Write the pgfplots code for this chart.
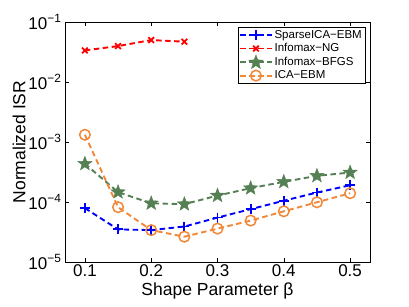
\documentclass[border=0pt]{standalone}
\usepackage{fontspec}
\setmainfont{Liberation Sans}
\usepackage{pgfplots}
\pgfplotsset{compat=1.18}
\definecolor{cblue}{RGB}{0,0,255}
\definecolor{cred}{RGB}{255,0,0}
\definecolor{cgreen}{RGB}{84,128,84}
\definecolor{corange}{RGB}{242,135,55}
\pgfdeclareplotmark{fstar}{%
  \pgfpathmoveto{\pgfpointpolar{90}{\pgfplotmarksize}}%
  \pgfpathlineto{\pgfpointpolar{126}{0.42\pgfplotmarksize}}%
  \pgfpathlineto{\pgfpointpolar{162}{\pgfplotmarksize}}%
  \pgfpathlineto{\pgfpointpolar{198}{0.42\pgfplotmarksize}}%
  \pgfpathlineto{\pgfpointpolar{234}{\pgfplotmarksize}}%
  \pgfpathlineto{\pgfpointpolar{270}{0.42\pgfplotmarksize}}%
  \pgfpathlineto{\pgfpointpolar{306}{\pgfplotmarksize}}%
  \pgfpathlineto{\pgfpointpolar{342}{0.42\pgfplotmarksize}}%
  \pgfpathlineto{\pgfpointpolar{18}{\pgfplotmarksize}}%
  \pgfpathlineto{\pgfpointpolar{54}{0.42\pgfplotmarksize}}%
  \pgfpathclose\pgfusepathqfillstroke}
\begin{document}
\begin{tikzpicture}
\begin{semilogyaxis}[
  scale only axis, width=305pt, height=240pt,
  xmin=0.07, xmax=0.53, ymin=1e-5, ymax=1e-1,
  log basis y=10,
  xtick={0.1,0.2,0.3,0.4,0.5},
  xticklabels={0.1,0.2,0.3,0.4,0.5},
  ytick={1e-5,1e-4,1e-3,1e-2,1e-1},
  yticklabel={\pgfmathtruncatemacro{\e}{round(-\tick)}10\textsuperscript{−\e}},
  tick align=inside, major tick length=4pt, minor tick length=2.2pt,
  every tick/.style={black, line width=0.4pt},
  ticklabel style={font=\fontsize{17}{19}\selectfont},
  xticklabel style={yshift=1pt},
  xlabel={Shape Parameter β},
  ylabel={Normalized ISR},
  label style={font=\fontsize{17.5}{20}\selectfont},
  xlabel style={yshift=1pt},
  ylabel style={yshift=-4pt},
  axis line style={line width=0.6pt},
  every axis plot/.append style={line width=1.9pt, dash pattern=on 5.5pt off 3.5pt},
  legend style={at={(0.984,0.978)}, anchor=north east, draw=black, line width=0.6pt,
    font=\fontsize{11.5}{12.5}\selectfont, inner sep=1pt, row sep=-0.5pt,
    cells={anchor=west}},
  legend image code/.code={\draw[mark repeat=2,mark phase=2] plot coordinates {(0cm,0cm)(0.55cm,0cm)(1.1cm,0cm)};},
]
\addplot[cblue, mark=+, mark size=5pt, mark options={solid, line width=1.8pt}] coordinates {
(0.10,7.9e-5)(0.15,3.5e-5)(0.20,3.4e-5)(0.25,3.9e-5)(0.30,5.5e-5)(0.35,7.6e-5)(0.40,1.05e-4)(0.45,1.44e-4)(0.50,1.9e-4)};
\addlegendentry{SparseICA−EBM}
\addplot[cred, mark=x, mark size=4pt, mark options={solid, line width=1.8pt}] coordinates {
(0.10,0.0336)(0.15,0.0397)(0.20,0.050)(0.25,0.047)};
\addlegendentry{Infomax−NG}
\addplot[cgreen, mark=fstar, mark size=7.5pt, mark options={solid, fill=cgreen, line width=0.4pt}] coordinates {
(0.10,4.34e-4)(0.15,1.46e-4)(0.20,9.5e-5)(0.25,9.2e-5)(0.30,1.28e-4)(0.35,1.7e-4)(0.40,2.17e-4)(0.45,2.73e-4)(0.50,3.1e-4)};
\addlegendentry{Infomax−BFGS}
\addplot[corange, mark=o, mark size=5.3pt, mark options={solid, line width=1.5pt}] coordinates {
(0.10,1.32e-3)(0.15,8.2e-5)(0.20,3.4e-5)(0.25,2.64e-5)(0.30,3.6e-5)(0.35,4.9e-5)(0.40,7.0e-5)(0.45,9.9e-5)(0.50,1.4e-4)};
\addlegendentry{ICA−EBM}
\end{semilogyaxis}
\pgfresetboundingbox
\path[use as bounding box] (-65pt,-45pt) rectangle (344pt,262pt);
\end{tikzpicture}
\end{document}
